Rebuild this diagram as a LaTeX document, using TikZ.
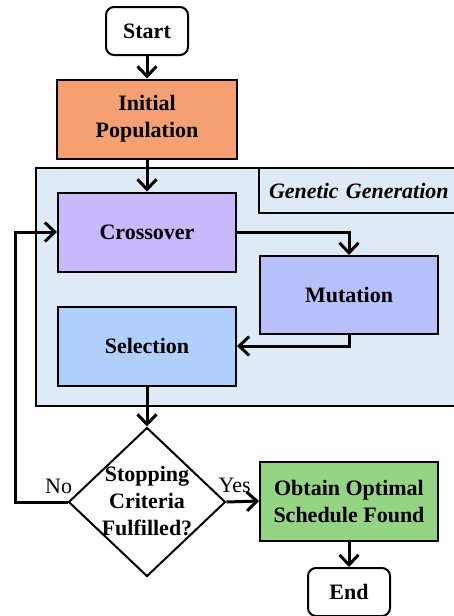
\documentclass[tikz,border=0pt]{standalone}
\usepackage{fontspec}
\setmainfont{Liberation Serif}
\usetikzlibrary{shapes.geometric}
\usetikzlibrary{arrows.meta}
\definecolor{popcol}{RGB}{245,160,115}
\definecolor{gencol}{RGB}{222,234,246}
\definecolor{crosscol}{RGB}{200,184,252}
\definecolor{mutcol}{RGB}{184,192,252}
\definecolor{selcol}{RGB}{176,208,252}
\definecolor{optcol}{RGB}{148,212,132}
\tikzset{% 
    blk/.style={draw=black, line width=2pt, minimum width=178pt, minimum height=79pt,
        align=center, font=\fontsize{22}{27}\selectfont\bfseries},
    term/.style={blk, rounded corners=8pt, fill=white, minimum width=82pt, minimum height=48pt}
}

\begin{document}
\begin{tikzpicture}[
                x=1pt, y=-1pt,
                flow/.style={line width=3pt, -{Straight Barb[length=10pt,width=19pt]}},
                lbl/.style={font=\fontsize{22}{27}\selectfont, inner sep=2pt}
            ]
            \useasboundingbox (0,0) rectangle (454,616);
            % genetic generation loop area
            \node[draw, line width=2pt, fill=gencol, anchor=north west,
                minimum width=430pt, minimum height=238pt] (gen) at (35,167) {};
            \node[draw, line width=2pt, fill=gencol, anchor=north west, minimum height=45pt,
                text width=190pt, inner xsep=10pt, align=left,
                font=\fontsize{22}{27}\selectfont\bfseries\itshape] (genlbl) at (258,167) {Genetic Generation};

            \node[term] (start) at (147,31) {Start};
            \node[blk, fill=popcol, minimum width=180pt] (init) at (147,119) {Initial\\Population};
            \node[blk, fill=crosscol] (cross) at (147,232) {Crossover};
            \node[blk, fill=mutcol, minimum height=78pt] (mut) at (349,295) {Mutation};
            \node[blk, fill=selcol] (sel) at (147,346) {Selection};
            \node[diamond, draw=black, line width=2pt, fill=white,
                minimum width=157pt, minimum height=149pt] (stop) at (147,502) {};
            \node[blk, draw=none, minimum width=0pt, minimum height=0pt] (stoptxt) at (147,501) {Stopping\\Criteria\\Fulfilled?};
            \node[blk, fill=optcol] (opt) at (349,501) {Obtain Optimal\\Schedule Found};
            \node[term] (end) at (349,592) {End};

            \draw[flow] (start) -- (init);
            \draw[flow] (init) -- (cross);
            \draw[flow] (cross.east) -| (mut.north);
            \draw[flow] (mut.south) |- (sel.east);
            \draw[flow] (sel) -- (stop.north);
            \draw[flow] (stop.east) -- node[lbl, pos=0.25, above=6pt]{Yes} (opt.west);
            \draw[flow] (stop.west) -- node[lbl, pos=0.17, above=5pt]{No} ++(-52,0) |- (cross.west);
            \draw[flow] (opt) -- (end);
        \end{tikzpicture}
\end{document}
